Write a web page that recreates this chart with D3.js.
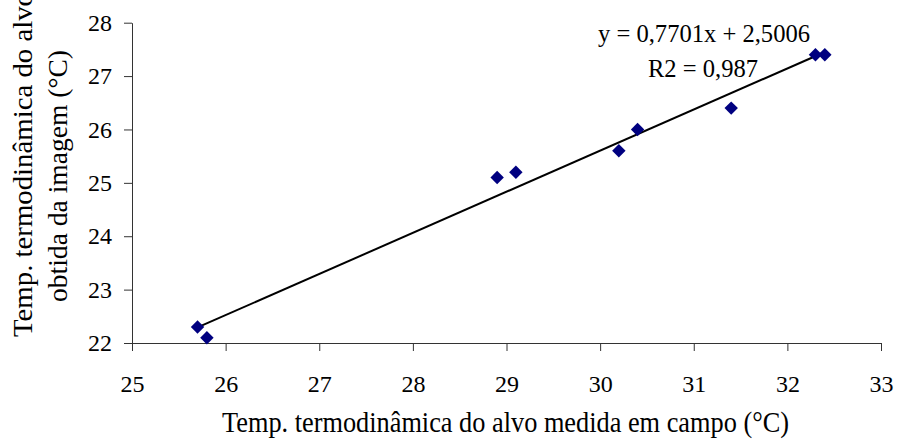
<!DOCTYPE html>
<html><head><meta charset="utf-8">
<script src="https://cdn.jsdelivr.net/npm/d3@7"></script>
<style>body{margin:0;background:#fff;} svg{display:block;}</style>
</head><body>
<svg id="c" width="897" height="443"></svg>
<script>
const xValues = [25.7, 25.8, 28.9, 29.1, 30.2, 30.4, 31.4, 32.3, 32.4];
const yValues = [22.3, 22.1, 25.1, 25.2, 25.6, 26.0, 26.4, 27.4, 27.4];
const xTicks = [25, 26, 27, 28, 29, 30, 31, 32, 33];
const yTicks = [22, 23, 24, 25, 26, 27, 28];
const slope = 0.7701, intercept = 2.5006;
const eqLabel = "y = 0,7701x + 2,5006";
const r2Label = "R2 = 0,987";
const xTitle = "Temp. termodinâmica do alvo medida em campo (°C)";
const yTitle = ["Temp. termodinâmica do alvo", "obtida da imagem (°C)"];

const svg = d3.select("#c");
const font = "'Liberation Serif', 'Times New Roman', serif";
const x = d3.scaleLinear().domain([25, 33]).range([132, 881]);
const y = d3.scaleLinear().domain([22, 28]).range([343, 22.7]);

const gx = svg.append("g").attr("transform", "translate(0,343)")
  .call(d3.axisBottom(x).tickValues(xTicks).tickSize(8).tickPadding(24).tickSizeOuter(0).tickFormat(d3.format("d")));
const gy = svg.append("g").attr("transform", "translate(132,0)")
  .call(d3.axisLeft(y).tickValues(yTicks).tickSize(8).tickPadding(12).tickSizeOuter(0).tickFormat(d3.format("d")));
[gx, gy].forEach(g => {
  g.selectAll("path, line").attr("stroke", "#333").attr("stroke-width", 1);
  g.selectAll("text").attr("font-family", font).attr("font-size", 24).attr("fill", "#000");
});

const xs = d3.extent(xValues);
svg.append("line")
  .attr("x1", x(xs[0])).attr("y1", y(slope * xs[0] + intercept))
  .attr("x2", x(xs[1])).attr("y2", y(slope * xs[1] + intercept))
  .attr("stroke", "#000").attr("stroke-width", 2);

const sym = d3.symbol().type(d3.symbolDiamond2).size(115);
svg.append("g").selectAll("path").data(xValues.map((v, i) => [v, yValues[i]])).join("path")
  .attr("transform", d => `translate(${x(d[0])},${y(d[1])})`)
  .attr("d", sym).attr("fill", "#000080");

svg.append("text").attr("x", 598).attr("y", 42)
  .attr("font-family", font).attr("font-size", 26)
  .attr("textLength", 212).attr("lengthAdjust", "spacingAndGlyphs").text(eqLabel);
svg.append("text").attr("x", 648).attr("y", 77)
  .attr("font-family", font).attr("font-size", 26)
  .attr("textLength", 110).attr("lengthAdjust", "spacingAndGlyphs").text(r2Label);

svg.append("text").attr("x", 222).attr("y", 432)
  .attr("font-family", font).attr("font-size", 29)
  .attr("textLength", 567).attr("lengthAdjust", "spacingAndGlyphs").text(xTitle);

const yLines = [{t: yTitle[0], bx: 32, start: 337, len: 345}, {t: yTitle[1], bx: 67, start: 302, len: 252}];
svg.append("g").selectAll("text").data(yLines).join("text")
  .attr("transform", d => `translate(${d.bx},${d.start}) rotate(-90)`)
  .attr("font-family", font).attr("font-size", 28)
  .attr("textLength", d => d.len).attr("lengthAdjust", "spacingAndGlyphs")
  .text(d => d.t);
</script>
</body></html>
